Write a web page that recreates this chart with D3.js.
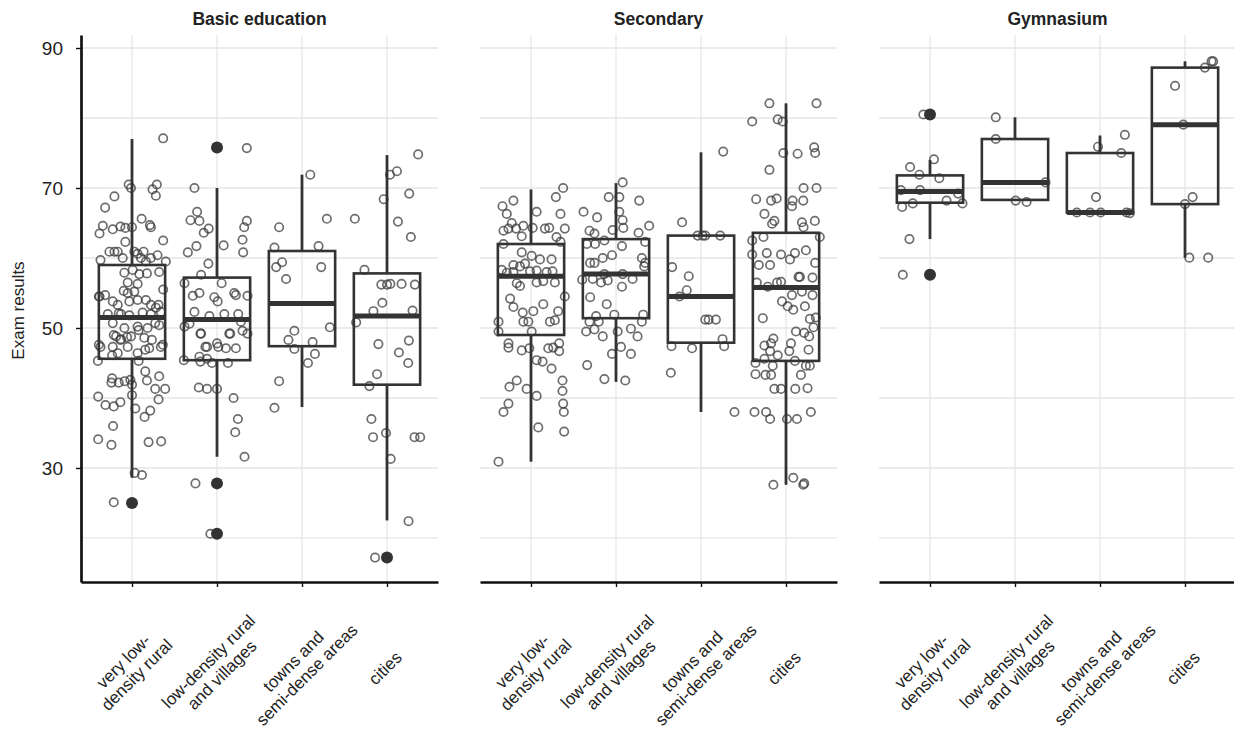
<!DOCTYPE html>
<html>
<head>
<meta charset="utf-8">
<script src="https://cdn.jsdelivr.net/npm/d3@7"></script>
<style>
  body { margin: 0; background: #fff; }
  svg { display: block; font-family: "Liberation Sans", Arial, sans-serif; }
</style>
</head>
<body>
<svg id="chart" width="1234" height="729"></svg>
<script>
// School types (facets) and settlement types (x categories)
const educationLevels = ["Basic education", "Secondary", "Gymnasium"];
const areaTypes = ["very low-density rural", "low-density rural and villages", "towns and semi-dense areas", "cities"];
const areaLabelLines = [["very low-", "density rural"], ["low-density rural", "and villages"], ["towns and", "semi-dense areas"], ["cities"]];

// Y axis
const scoreTicks = [30, 50, 70, 90];
const scoreGrid = [20, 30, 40, 50, 60, 70, 80, 90];
const scoreDomain = [13.71, 91.86];

// Box-plot summaries, one row per school type, one value per settlement type
const lowerWhisker  = [[28.6, 31.6, 38.7, 22.5], [30.9, 42.3, 38.0, 27.6], [62.7, 68.3, 66.5, 60.05]];
const lowerQuartile = [[45.6, 45.4, 47.4, 41.9], [49.0, 51.4, 47.9, 45.3], [67.9, 68.3, 66.5, 67.7]];
const medianScore   = [[51.5, 51.2, 53.5, 51.7], [57.4, 57.7, 54.5, 55.8], [69.5, 70.8, 66.5, 79.05]];
const upperQuartile = [[59.0, 57.2, 61.0, 57.8], [62.0, 62.7, 63.2, 63.6], [71.8, 77.0, 75.0, 87.2]];
const upperWhisker  = [[77.0, 70.0, 71.9, 74.7], [69.8, 70.7, 75.1, 82.1], [74.0, 80.1, 77.5, 88.1]];
const outlierScores = [[[25.0], [75.8, 27.8, 20.6], [], [17.2]], [[], [], [], []], [[80.5, 57.6], [], [], []]];

// Individual school results: [score, horizontal spread in % of the box half-width]
const basicScores = [
  [[77.1,94],[70.5,-10],[70.0,-3],[70.5,75],[69.8,62],[68.9,72],[68.8,-53],[67.2,-81],[65.6,29],[64.7,54],[64.4,57],[64.6,-88],[63.5,-98],[64.1,-58],[64.5,-35],[64.3,-20],[64.4,0],[62.5,94],[62.3,-20],[60.9,-68],[60.9,-53],[60.9,-43],[59.7,-95],[60.0,-28],[60.9,7],[60.6,17],[60.9,35],[60.0,27],[60.0,57],[60.4,77],[59.5,102],[59.5,42],[57.9,-23],[58.3,2],[57.7,22],[57.8,45],[58.0,82],[56.5,-13],[56.3,17],[55.3,-25],[55.5,94],[54.5,-98],[54.7,-81],[55.0,-13],[55.2,7],[53.8,-58],[53.3,-43],[53.8,-8],[54.0,17],[54.0,42],[53.3,57],[52.9,72],[52.3,87],[52.0,-73],[52.0,-33],[51.8,-8],[52.2,32],[52.0,57],[50.7,-58],[50.0,-23],[50.2,17],[50.0,47],[50.4,82],[48.8,-48],[48.8,-3],[48.6,37],[48.4,-33],[47.3,-95],[47.3,-58],[47.3,-13],[47.1,52],[47.3,87],[46.4,17],[46.4,-43],[54.5,-100],[47.6,-100],[49.0,-55],[48.3,-35],[48.7,-15],[46.9,40],[48.3,60],[47.6,93],[46.1,-60],[50.7,70],[53.3,80],[52.1,-40],[49.7,20],[45.3,-103],[45.3,20],[43.8,40],[42.8,-60],[42.2,-62],[42.2,-40],[42.4,-22],[42.6,-5],[42.5,45],[43.1,82],[41.9,0],[41.3,70],[41.3,100],[40.4,0],[40.2,-102],[39.8,80],[39.0,-80],[38.8,-55],[39.4,-35],[38.5,10],[37.3,38],[38.2,55],[36.0,-57],[34.1,-102],[33.3,-62],[33.7,50],[33.8,88],[29.3,8],[29.0,30],[25.1,-55]],
  [[75.7,90],[70.0,-68],[66.6,-60],[65.4,-80],[65.3,-53],[64.2,-25],[63.6,-40],[65.3,90],[64.4,82],[62.6,77],[60.8,79],[61.8,20],[61.7,-62],[60.8,-88],[59.2,-26],[57.6,-48],[56.4,-98],[56.4,14],[55.0,-53],[54.6,-73],[54.4,-8],[53.8,2],[55.0,52],[54.7,57],[54.6,92],[52.0,22],[52.3,-68],[51.7,-23],[52.0,64],[50.9,72],[50.2,-98],[50.6,-83],[49.2,-48],[49.2,37],[49.6,77],[49.2,92],[47.3,-30],[47.3,4],[47.1,27],[47.1,57],[45.9,-53],[45.4,-100],[45.2,-50],[45.6,-30],[45.0,-15],[45.0,33],[47.8,0],[47.3,-35],[41.5,-55],[41.3,-30],[41.3,0],[40.0,50],[37.0,63],[35.1,55],[31.6,83],[27.8,-65],[20.6,-20],[49.2,-50],[49.2,40]],
  [[71.9,25],[64.4,-69],[65.6,75],[61.5,-83],[61.7,50],[59.4,-60],[58.7,-78],[58.7,58],[57.0,-48],[50.1,84],[49.6,-23],[48.3,-41],[48.0,32],[47.0,-23],[46.3,39],[45.0,18],[42.4,-69],[38.6,-83]],
  [[74.8,94],[71.9,9],[72.4,30],[69.2,67],[68.4,-10],[65.6,-97],[65.2,33],[63.0,72],[58.3,-68],[56.2,-17],[56.2,0],[56.3,10],[56.3,44],[56.2,84],[53.6,-14],[52.4,-41],[52.5,77],[50.8,-93],[47.7,-26],[48.2,66],[46.5,36],[45.0,64],[43.4,-30],[41.7,-53],[37.0,-47],[34.4,-42],[35.0,-3],[34.4,83],[34.4,100],[31.3,11],[22.4,65],[17.2,-36]]
];

const secondaryScores = [
  [[70.0,97],[68.7,75],[68.2,-53],[67.4,-86],[66.6,17],[66.3,-73],[66.3,89],[65.0,-58],[63.9,-83],[64.2,-68],[64.2,-45],[64.6,-23],[64.3,5],[64.2,42],[64.3,55],[64.2,102],[63.1,-28],[63.0,77],[62.0,-83],[62.3,89],[60.8,-28],[60.3,2],[59.8,27],[59.8,62],[59.0,-53],[58.8,-33],[59.2,-18],[58.3,-88],[57.9,-73],[58.0,-53],[58.1,-3],[58.2,17],[58.0,47],[58.1,65],[56.4,-43],[56.0,-33],[56.5,17],[56.7,37],[56.5,72],[54.5,102],[54.2,-63],[53.0,-53],[52.2,-25],[52.4,7],[53.4,37],[52.4,82],[50.9,-98],[50.9,-23],[50.9,-8],[50.9,57],[51.1,72],[49.5,-98],[49.5,2],[47.8,-68],[47.2,-68],[46.8,-28],[47.1,-5],[47.1,52],[47.2,67],[47.8,85],[46.7,85],[45.4,17],[45.2,35],[44.2,62],[42.5,-43],[41.6,-65],[41.3,-13],[40.3,17],[42.5,95],[41.0,95],[39.2,-68],[38.0,-83],[39.2,97],[38.0,99],[35.8,22],[35.2,100],[30.9,-98]],
  [[70.8,20],[68.7,-22],[68.7,10],[68.2,70],[66.6,-98],[65.8,-57],[66.6,10],[65.4,20],[64.0,-10],[64.3,22],[63.9,-80],[63.5,-65],[63.6,68],[64.6,100],[62.0,-88],[62.0,-63],[62.5,-35],[62.3,88],[61.7,18],[60.4,-12],[60.0,-40],[59.3,-78],[59.3,-65],[60.0,78],[59.3,88],[58.8,85],[57.7,-35],[57.7,20],[56.9,-102],[57.0,-70],[56.5,-45],[56.8,-25],[57.0,50],[55.9,18],[54.4,-78],[53.4,-28],[51.7,-60],[51.9,-5],[51.9,82],[50.9,-80],[50.9,-52],[50.9,78],[49.5,-90],[49.8,-65],[48.8,-40],[49.5,5],[49.9,45],[48.8,65],[47.3,15],[46.3,-12],[46.3,45],[44.7,-87],[42.7,-35],[42.5,28]],
  [[75.2,67],[65.1,-57],[63.2,-10],[63.2,5],[63.2,13],[63.2,58],[58.7,-87],[57.4,-37],[55.4,-43],[54.5,-65],[51.2,13],[51.2,23],[51.2,45],[48.4,65],[47.4,-89],[47.1,-27],[47.4,70],[43.6,-91],[38.0,101]],
  [[82.1,-50],[82.1,92],[79.5,-102],[79.8,-25],[79.5,-10],[75.0,-8],[74.9,35],[75.8,85],[75.0,88],[72.6,-50],[70.0,53],[70.0,92],[68.4,-90],[68.2,-45],[68.5,-28],[68.2,20],[68.2,52],[67.4,18],[66.3,-65],[65.3,-35],[64.9,-42],[65.1,48],[65.3,87],[64.4,53],[63.0,-68],[62.5,-102],[63.0,102],[60.5,-102],[60.7,-58],[60.5,-15],[60.7,27],[61.1,60],[59.0,-82],[59.0,-48],[59.8,12],[59.3,88],[57.3,38],[57.3,42],[57.2,80],[56.5,-88],[55.9,-55],[56.5,-27],[56.6,-15],[54.7,18],[55.2,48],[54.7,80],[53.8,-12],[53.1,5],[52.6,22],[53.1,57],[51.4,-70],[51.3,72],[50.1,83],[51.5,90],[49.5,30],[49.3,55],[48.8,70],[48.5,-38],[47.5,-65],[47.8,-45],[47.8,15],[46.9,68],[46.7,-48],[46.7,10],[46.1,-25],[45.6,-65],[45.0,-92],[44.6,-40],[45.3,27],[44.6,60],[44.6,72],[43.4,-92],[43.3,-62],[43.3,-45],[43.3,45],[41.3,-35],[41.3,-15],[41.3,28],[41.4,65],[38.0,-95],[38.0,-60],[37.0,-48],[37.0,3],[37.0,33],[38.0,75],[27.6,-38],[28.6,22],[27.6,52],[27.8,55]]
];

const gymnasiumScores = [
  [[80.5,-20],[74.1,12],[73.0,-60],[71.9,-32],[71.4,28],[69.7,-88],[69.7,-30],[69.2,85],[68.2,50],[67.8,-52],[67.3,-84],[67.8,98],[62.7,-62],[57.6,-82]],
  [[80.1,-58],[77.0,-58],[70.8,92],[68.2,2],[68.0,35]],
  [[77.6,75],[75.9,-6],[75.0,64],[68.7,-12],[66.5,-70],[66.5,-30],[66.5,2],[66.5,80],[66.4,90]],
  [[88.1,85],[88.1,80],[87.2,60],[84.6,-30],[79.05,-5],[68.7,23],[67.7,0],[60.05,13],[60.05,70]]
];
const scoresByLevel = [basicScores, secondaryScores, gymnasiumScores];

// ---- layout ----
const svg = d3.select("#chart");
const plotTop = 35, plotBottom = 582;
const textColor = "#222";

const y = d3.scaleLinear().domain(scoreDomain).range([plotBottom, plotTop]);
const panelX = d3.scaleBand().domain(educationLevels).range([81, 1236]).paddingInner(42 / 399).paddingOuter(0);
const areaX = d3.scalePoint().domain(areaTypes).range([0, panelX.bandwidth()]).padding(0.6);
const halfBox = areaX.step() * 0.39;

educationLevels.forEach((level, li) => {
  const g = svg.append("g").attr("transform", `translate(${panelX(level)},0)`);
  const w = panelX.bandwidth();

  // grid
  g.append("g").selectAll("line.h").data(scoreGrid).join("line")
    .attr("x1", 0).attr("x2", w)
    .attr("y1", d => y(d)).attr("y2", d => y(d))
    .attr("stroke", "#e6e6e6").attr("stroke-width", 1.3);
  g.append("g").selectAll("line.v").data(areaTypes).join("line")
    .attr("x1", d => areaX(d)).attr("x2", d => areaX(d))
    .attr("y1", plotTop).attr("y2", plotBottom)
    .attr("stroke", "#e6e6e6").attr("stroke-width", 1.3);

  // panel title
  svg.append("text")
    .attr("x", panelX(level) + w / 2).attr("y", 25)
    .attr("text-anchor", "middle")
    .attr("font-size", 17.5).attr("font-weight", "bold").attr("fill", textColor)
    .text(level);

  // jittered observations
  areaTypes.forEach((area, ai) => {
    const cx = areaX(area);
    g.append("g").selectAll("circle").data(scoresByLevel[li][ai]).join("circle")
      .attr("cx", d => cx + d[1] / 100 * halfBox)
      .attr("cy", d => y(d[0]))
      .attr("r", 4.2)
      .attr("fill", "none")
      .attr("stroke", "#3c3c3c").attr("stroke-opacity", 0.75).attr("stroke-width", 1.7);
  });

  // boxes
  areaTypes.forEach((area, ai) => {
    const cx = areaX(area);
    const bg = g.append("g").attr("stroke", "#333");
    bg.append("line")
      .attr("x1", cx).attr("x2", cx)
      .attr("y1", y(upperQuartile[li][ai])).attr("y2", y(upperWhisker[li][ai]))
      .attr("stroke-width", 2.8);
    bg.append("line")
      .attr("x1", cx).attr("x2", cx)
      .attr("y1", y(lowerQuartile[li][ai])).attr("y2", y(lowerWhisker[li][ai]))
      .attr("stroke-width", 2.8);
    bg.append("rect")
      .attr("x", cx - halfBox).attr("width", halfBox * 2)
      .attr("y", y(upperQuartile[li][ai]))
      .attr("height", y(lowerQuartile[li][ai]) - y(upperQuartile[li][ai]))
      .attr("fill", "none").attr("stroke-width", 2.6);
    bg.append("line")
      .attr("x1", cx - halfBox).attr("x2", cx + halfBox)
      .attr("y1", y(medianScore[li][ai])).attr("y2", y(medianScore[li][ai]))
      .attr("stroke-width", 5);
    bg.selectAll("circle").data(outlierScores[li][ai]).join("circle")
      .attr("cx", cx).attr("cy", d => y(d)).attr("r", 6)
      .attr("fill", "#333").attr("stroke", "none");
  });

  // x axis
  const xAxis = g.append("g").attr("transform", `translate(0,${plotBottom})`)
    .call(d3.axisBottom(areaX).tickSize(5).tickSizeOuter(0).tickFormat(""));
  xAxis.select(".domain").attr("stroke", "#111").attr("stroke-width", 2.7);
  xAxis.selectAll(".tick line").attr("stroke", "#111").attr("stroke-width", 1.4);

  // rotated, centred multi-line category labels
  const lineH = 19;
  areaTypes.forEach((area, ai) => {
    const lines = areaLabelLines[ai];
    const t = g.append("text")
      .attr("transform", `translate(${areaX(area) - 2},668) rotate(-45)`)
      .attr("text-anchor", "middle")
      .attr("font-size", 17).attr("fill", textColor);
    lines.forEach((ln, k) => {
      t.append("tspan")
        .attr("x", 0)
        .attr("y", (k - (lines.length - 1) / 2) * lineH)
        .attr("dy", "0.35em")
        .text(ln);
    });
  });

  // y axis on the first panel only
  if (li === 0) {
    const yAxis = g.append("g")
      .call(d3.axisLeft(y).tickValues(scoreTicks).tickSize(5).tickSizeOuter(0).tickPadding(13));
    yAxis.select(".domain").attr("stroke", "#111").attr("stroke-width", 2.7);
    yAxis.selectAll(".tick line").attr("stroke", "#111").attr("stroke-width", 1.4);
    yAxis.selectAll(".tick text")
      .attr("font-size", 19).attr("fill", textColor)
      .attr("font-family", "\"Liberation Sans\", Arial, sans-serif");
  }
});

// y axis title
svg.append("text")
  .attr("transform", `translate(18,${(plotTop + plotBottom) / 2 + 2}) rotate(-90)`)
  .attr("text-anchor", "middle").attr("dy", "0.35em")
  .attr("font-size", 17).attr("fill", textColor)
  .text("Exam results");
</script>
</body>
</html>
